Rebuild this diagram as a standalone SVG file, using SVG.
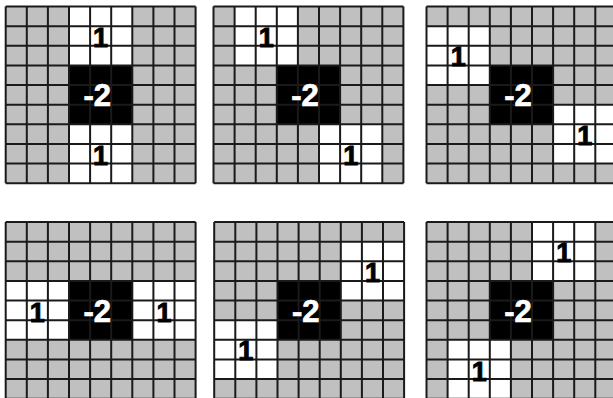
<svg xmlns="http://www.w3.org/2000/svg" width="613" height="398" viewBox="0 0 613 398">
<style>
.bg{fill:#c0c0c0}
.w{fill:#ffffff}
.b{fill:#000000}
.grid{fill:none;stroke:#1a1a1a;stroke-width:2}
.one{fill:#000;stroke:#000;stroke-width:0.9;font-size:27px}
.m2{fill:#fff;stroke:#fff;stroke-width:0.7;font-size:31px}
</style>
<defs>
<rect id="bgr" class="bg" x="0" y="0" width="189.9" height="176.7"/>
<rect id="blk" class="b" x="63.3" y="58.9" width="63.3" height="58.9"/>
<rect id="wb" class="w" x="0" y="0" width="63.3" height="58.9"/>
<path id="grid" class="grid" d="M0 0V176.7M21.1 0V176.7M42.2 0V176.7M63.3 0V176.7M84.4 0V176.7M105.5 0V176.7M126.6 0V176.7M147.7 0V176.7M168.8 0V176.7M189.9 0V176.7M0 0H189.9M0 19.63H189.9M0 39.27H189.9M0 58.9H189.9M0 78.53H189.9M0 98.17H189.9M0 117.8H189.9M0 137.43H189.9M0 157.07H189.9M0 176.7H189.9"/>
</defs>
<g font-family="'Liberation Sans', Arial, sans-serif" font-weight="bold" text-anchor="middle">
<g id="panel1" transform="translate(5.7,6.5)">
<use href="#bgr"/>
<use href="#wb" x="63.3" y="0"/>
<use href="#wb" x="63.3" y="117.8"/>
<use href="#blk"/>
<use href="#grid"/>
<text class="one" x="94.95" y="40">1</text>
<text class="one" x="94.95" y="158.5">1</text>
<text class="m2" x="91.5" y="99.5">-2</text>
</g>
<g id="panel2" transform="translate(213.5,6.5)">
<use href="#bgr"/>
<use href="#wb" x="21.1" y="0"/>
<use href="#wb" x="105.5" y="117.8"/>
<use href="#blk"/>
<use href="#grid"/>
<text class="one" x="52.75" y="40">1</text>
<text class="one" x="137.15" y="158.5">1</text>
<text class="m2" x="91.5" y="99.5">-2</text>
</g>
<g id="panel3" transform="translate(426.5,6.5)">
<use href="#bgr"/>
<use href="#wb" x="0" y="19.63"/>
<use href="#wb" x="126.6" y="98.17"/>
<use href="#blk"/>
<use href="#grid"/>
<text class="one" x="31.65" y="59.7">1</text>
<text class="one" x="158.25" y="138.2">1</text>
<text class="m2" x="91.5" y="99.5">-2</text>
</g>
<g id="panel4" transform="translate(5.7,222)">
<use href="#bgr"/>
<use href="#wb" x="0" y="58.9"/>
<use href="#wb" x="126.6" y="58.9"/>
<use href="#blk"/>
<use href="#grid"/>
<text class="one" x="31.65" y="99.5">1</text>
<text class="one" x="158.25" y="99.5">1</text>
<text class="m2" x="91.5" y="99.5">-2</text>
</g>
<g id="panel5" transform="translate(214.2,222)">
<use href="#bgr"/>
<use href="#wb" x="126.6" y="19.63"/>
<use href="#wb" x="0" y="98.17"/>
<use href="#blk"/>
<use href="#grid"/>
<text class="one" x="158.25" y="59.7">1</text>
<text class="one" x="31.65" y="138.2">1</text>
<text class="m2" x="91.5" y="99.5">-2</text>
</g>
<g id="panel6" transform="translate(426.5,222)">
<use href="#bgr"/>
<use href="#wb" x="105.5" y="0"/>
<use href="#wb" x="21.1" y="117.8"/>
<use href="#blk"/>
<use href="#grid"/>
<text class="one" x="137.15" y="40">1</text>
<text class="one" x="52.75" y="158.5">1</text>
<text class="m2" x="91.5" y="99.5">-2</text>
</g>
</g>
</svg>
